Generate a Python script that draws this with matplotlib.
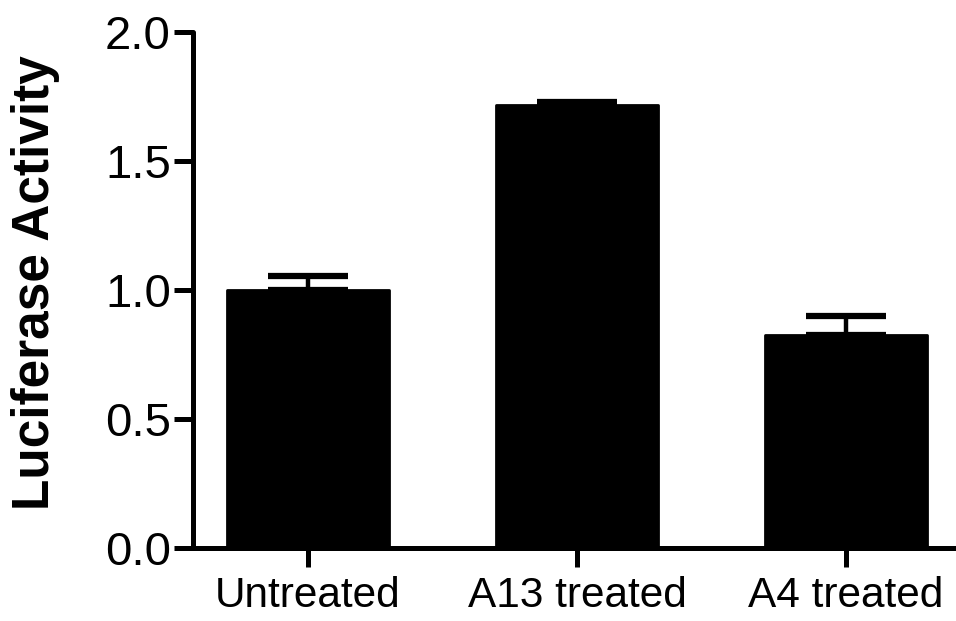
import matplotlib
matplotlib.use('Agg')
import matplotlib.pyplot as plt
import numpy as np

groups = ['Untreated', 'A13 treated', 'A4 treated']
activity = [1.0, 1.717, 0.826]
sem = [0.054, 0.012, 0.073]

plt.rcParams['font.family'] = ['Liberation Sans', 'DejaVu Sans']

fig = plt.figure(figsize=(9.56, 6.21), dpi=100)
ax = fig.add_axes([0.202, 0.1176, 0.798, 0.8309])

x = np.arange(len(groups))
bars = ax.bar(x, activity, width=0.6, color='black', edgecolor='black', linewidth=2)
for b in bars:
    b.set_joinstyle('round')
ax.errorbar(x, activity, yerr=[np.zeros(len(sem)), sem], fmt='none', ecolor='black',
            elinewidth=3.2, capsize=29, capthick=4.5)

ax.set_xlim(-0.4275, 2.409)
ax.set_ylim(0, 2.0)
ax.set_yticks([0.0, 0.5, 1.0, 1.5, 2.0])
ax.set_yticklabels(['0.0', '0.5', '1.0', '1.5', '2.0'])
ax.set_xticks(x)
ax.set_xticklabels(groups)

for s in ['top', 'right']:
    ax.spines[s].set_visible(False)
for s in ['left', 'bottom']:
    ax.spines[s].set_linewidth(3.6)
    ax.spines[s].set_capstyle('round')

ax.tick_params(axis='y', length=14, width=3.6, pad=2, labelsize=34)
ax.tick_params(axis='x', length=14, width=3.6, pad=6, labelsize=30.5)
ax.set_ylabel('Luciferase Activity', fontsize=37, fontweight='bold')
ax.yaxis.set_label_coords(-0.174, 0.5136)

fig.savefig('out.png', dpi=100)
